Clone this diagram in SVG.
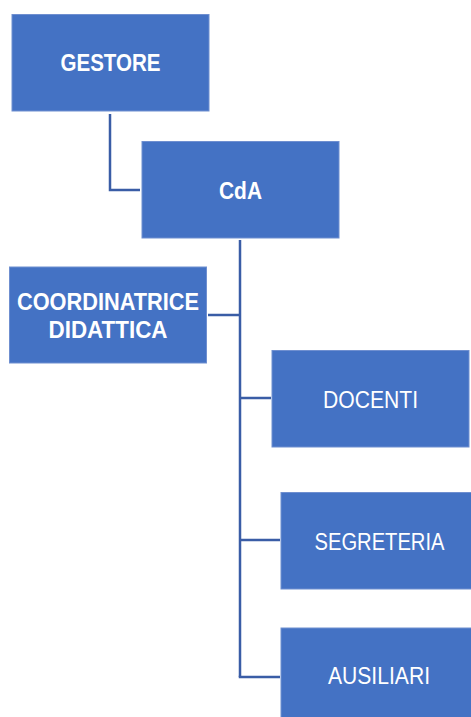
<svg xmlns="http://www.w3.org/2000/svg" width="471" height="717" viewBox="0 0 471 717">
<style>
.box{fill:#4472C4;stroke:#6F8FD0;stroke-width:1}
.t{fill:#FFFFFF;font-family:"Liberation Sans",Arial,sans-serif;font-size:23px;text-anchor:middle}
.b{font-weight:bold}
.c{fill:none;stroke:#3A5DA6;stroke-width:2.5}
</style>
<rect width="471" height="717" fill="#FFFFFF"/>
<g id="connectors">
<polyline class="c" points="110,114 110,190 140,190"/>
<line class="c" x1="240" y1="240" x2="240" y2="677"/>
<line class="c" x1="208" y1="315" x2="240" y2="315"/>
<line class="c" x1="240" y1="398" x2="271" y2="398"/>
<line class="c" x1="240" y1="540" x2="280" y2="540"/>
<line class="c" x1="238.75" y1="677" x2="280" y2="677"/>
</g>
<g id="gestore">
<rect class="box" x="12" y="14.5" width="197" height="96.5"/>
<text class="t b" x="110.5" y="71" textLength="100" lengthAdjust="spacingAndGlyphs">GESTORE</text>
</g>
<g id="cda">
<rect class="box" x="142" y="141.5" width="197" height="96.5"/>
<text class="t b" x="240.5" y="198.5" textLength="43" lengthAdjust="spacingAndGlyphs">CdA</text>
</g>
<g id="coordinatrice">
<rect class="box" x="9.5" y="267" width="197" height="96"/>
<text class="t b" x="108" y="309.5" textLength="182" lengthAdjust="spacingAndGlyphs">COORDINATRICE</text>
<text class="t b" x="108" y="337.5" textLength="119" lengthAdjust="spacingAndGlyphs">DIDATTICA</text>
</g>
<g id="docenti">
<rect class="box" x="272" y="350.5" width="197" height="96.5"/>
<text class="t" x="370.5" y="407.5" textLength="95" lengthAdjust="spacingAndGlyphs">DOCENTI</text>
</g>
<g id="segreteria">
<rect class="box" x="281" y="492.5" width="197" height="96.5"/>
<text class="t" x="379.5" y="549.5" textLength="130" lengthAdjust="spacingAndGlyphs">SEGRETERIA</text>
</g>
<g id="ausiliari">
<rect class="box" x="281" y="628" width="197" height="96.5"/>
<text class="t" x="379" y="683.5" textLength="102" lengthAdjust="spacingAndGlyphs">AUSILIARI</text>
</g>
</svg>
